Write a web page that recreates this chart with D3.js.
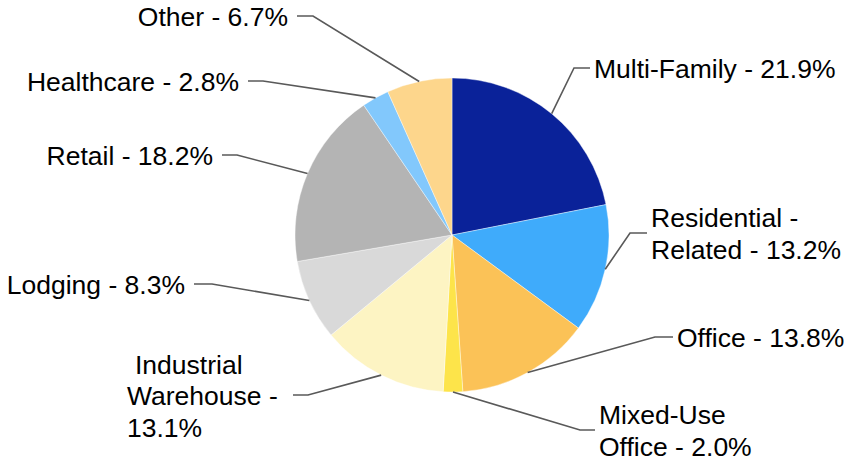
<!DOCTYPE html>
<html>
<head>
<meta charset="utf-8">
<script src="https://cdn.jsdelivr.net/npm/d3@7"></script>
<style>
  html, body { margin: 0; padding: 0; background: #ffffff; }
  svg { display: block; }
  text { font-family: "Liberation Sans", Arial, sans-serif; font-size: 26.5px; fill: #000000; }
</style>
</head>
<body>
<svg id="chart" width="844" height="461"></svg>
<script>
// Loan portfolio by property type (percent of total)
const categories = [
  "Multi-Family", "Residential - Related", "Office", "Mixed-Use Office",
  "Industrial Warehouse", "Lodging", "Retail", "Healthcare", "Other"
];
const shares = [21.9, 13.2, 13.8, 2.0, 13.1, 8.3, 18.2, 2.8, 6.7];
const colors = [
  "#0a2299", "#3fabfb", "#fbc257", "#fde44a",
  "#fdf4c3", "#d9d9d9", "#b4b4b4", "#82c8fc", "#fdd68c"
];
// Label text lines for each slice
const labelLines = [
  ["Multi-Family - 21.9%"],
  ["Residential -", "Related - 13.2%"],
  ["Office - 13.8%"],
  ["Mixed-Use", "Office - 2.0%"],
  ["Industrial", "Warehouse -", "13.1%"],
  ["Lodging - 8.3%"],
  ["Retail - 18.2%"],
  ["Healthcare - 2.8%"],
  ["Other - 6.7%"]
];

// Layout for the callouts: elbow point of the leader line (relative to pie centre),
// the length of the horizontal tail, and which side the text sits on.
const callouts = [
  { ex: 122, ey: -167, side: 1, tail: 16 },
  { ex: 178, ey: -2, side: 1, tail: 17 },
  { ex: 203, ey: 102, side: 1, tail: 18 },
  { ex: 128, ey: 195, side: 1, tail: 15 },
  { ex: -144, ey: 160, side: -1, tail: 15, align: "left", textX: -325, firstIndent: 8 },
  { ex: -240, ey: 49, side: -1, tail: 18 },
  { ex: -215, ey: -80, side: -1, tail: 15 },
  { ex: -189, ey: -154, side: -1, tail: 15 },
  { ex: -139, ey: -219, side: -1, tail: 16 }
];

const W = 844, H = 461;
const cx = 452, cy = 235, radius = 157;
const lineHeight = 31.5;

const svg = d3.select("#chart");
const g = svg.append("g").attr("transform", `translate(${cx},${cy})`);

const data = categories.map((c, i) => ({ name: c, value: shares[i], i }));

const pie = d3.pie().value(d => d.value).sort(null)
  .startAngle(0).endAngle(2 * Math.PI);
const arcs = pie(data);

const arc = d3.arc().innerRadius(0).outerRadius(radius);
const edgeArc = d3.arc().innerRadius(radius).outerRadius(radius);

g.selectAll("path.slice")
  .data(arcs)
  .join("path")
  .attr("class", "slice")
  .attr("d", arc)
  .attr("fill", d => colors[d.data.i])
  .attr("stroke", "#ffffff")
  .attr("stroke-width", 0.4);

// Leader lines: slice edge at mid-angle -> elbow -> short horizontal tail
g.selectAll("polyline.leader")
  .data(arcs)
  .join("polyline")
  .attr("class", "leader")
  .attr("fill", "none")
  .attr("stroke", "#595959")
  .attr("stroke-width", 1.6)
  .attr("points", d => {
    const c = callouts[d.data.i];
    const start = edgeArc.centroid(d);
    const end = [c.ex + c.side * c.tail, c.ey];
    return [start, [c.ex, c.ey], end].map(p => p.join(",")).join(" ");
  });

// Labels
arcs.forEach(d => {
  const c = callouts[d.data.i];
  const lines = labelLines[d.data.i];
  const n = lines.length;
  const endX = c.ex + c.side * c.tail;
  const gap = c.side > 0 ? 4 : 9;
  let x, anchor;
  if (c.align === "left") {
    x = c.textX; anchor = "start";
  } else {
    x = endX + c.side * gap;
    anchor = c.side > 0 ? "start" : "end";
  }
  const t = g.append("text")
    .attr("text-anchor", anchor)
    .attr("dominant-baseline", "central");
  lines.forEach((line, k) => {
    t.append("tspan")
      .attr("x", x + (k === 0 && c.firstIndent ? c.firstIndent : 0))
      .attr("y", c.ey + (k - (n - 1) / 2) * lineHeight + 1)
      .text(line);
  });
});
</script>
</body>
</html>
